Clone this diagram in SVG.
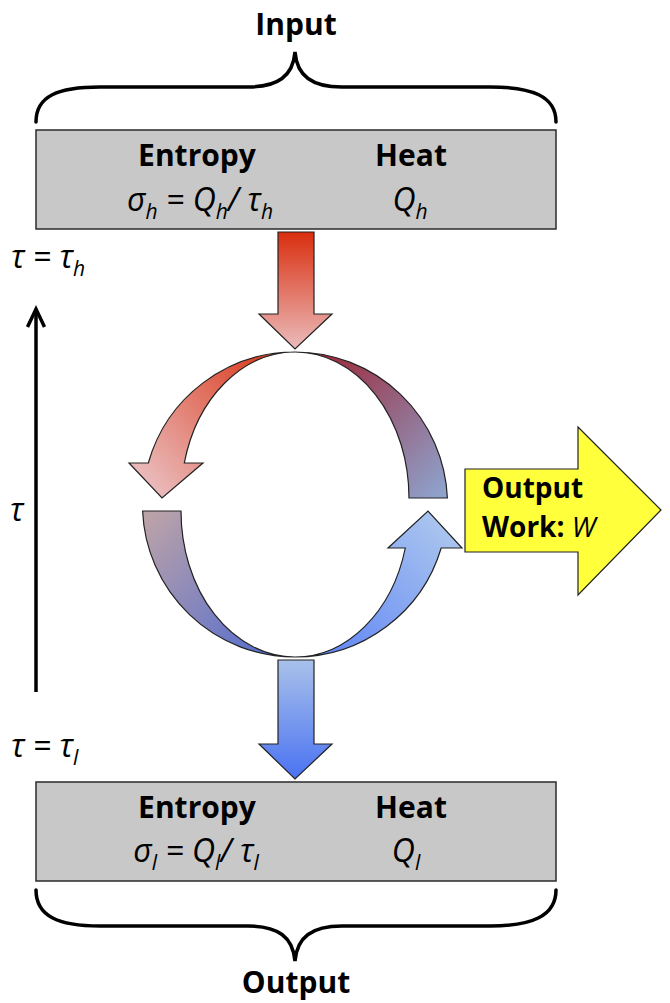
<svg xmlns="http://www.w3.org/2000/svg" width="670" height="1003" viewBox="0 0 670 1003">
<defs>
<style>
.lbl{font-family:"Open Sans","Liberation Sans",sans-serif;font-weight:bold;font-size:30px;fill:#000}
.wk{font-size:28px}
.math{font-family:"Open Sans","Liberation Sans",sans-serif;font-style:italic;font-size:32px;fill:#000}
.sub{font-size:21px}
.box{fill:#c8c8c8;stroke:#2a2a2a;stroke-width:1.5}
.brace{fill:none;stroke:#000;stroke-width:3.5;stroke-linecap:round}
.arr{stroke:#222;stroke-width:1.2;stroke-linejoin:miter}
</style>
<linearGradient id="gRed" x1="0" y1="232" x2="0" y2="349" gradientUnits="userSpaceOnUse"><stop offset="0" stop-color="#d92e0e"/><stop offset="1" stop-color="#ebbcbc"/></linearGradient>
<linearGradient id="gBlue" x1="0" y1="660" x2="0" y2="779" gradientUnits="userSpaceOnUse"><stop offset="0" stop-color="#a9c1ea"/><stop offset="1" stop-color="#4a72f2"/></linearGradient>
<linearGradient id="gA" x1="290" y1="355" x2="150" y2="480" gradientUnits="userSpaceOnUse"><stop offset="0" stop-color="#d8300f"/><stop offset="1" stop-color="#eab8b8"/></linearGradient>
<linearGradient id="gB" x1="300" y1="355" x2="440" y2="495" gradientUnits="userSpaceOnUse"><stop offset="0" stop-color="#9e2030"/><stop offset="1" stop-color="#8ea2cc"/></linearGradient>
<linearGradient id="gC" x1="150" y1="515" x2="295" y2="655" gradientUnits="userSpaceOnUse"><stop offset="0" stop-color="#bba2a8"/><stop offset="1" stop-color="#4c68d2"/></linearGradient>
<linearGradient id="gD" x1="300" y1="655" x2="440" y2="515" gradientUnits="userSpaceOnUse"><stop offset="0" stop-color="#5a80f6"/><stop offset="1" stop-color="#abc6ee"/></linearGradient>
</defs>

<g id="input-label">
<path class="brace" d="M36,122 C36,96 58,87 100,87 L248,87 C278,87 293,76 295,52 C297,76 312,87 342,87 L490,87 C532,87 556,96 556,122"/>
<text class="lbl" x="296" y="35" text-anchor="middle">Input</text>
</g>

<g id="hot-reservoir">
<rect class="box" x="36" y="130" width="520" height="99"/>
<text class="lbl" x="197" y="166" text-anchor="middle">Entropy</text>
<text class="lbl" x="411" y="166" text-anchor="middle">Heat</text>
<text class="math" x="200" y="211" text-anchor="middle">σ<tspan class="sub" dy="8">h</tspan><tspan dy="-8"> = Q</tspan><tspan class="sub" dy="8">h</tspan><tspan dy="-8">/ τ</tspan><tspan class="sub" dy="8">h</tspan></text>
<text class="math" x="410" y="211" text-anchor="middle">Q<tspan class="sub" dy="8">h</tspan></text>
</g>

<g id="cold-reservoir">
<rect class="box" x="36" y="782" width="520" height="99"/>
<text class="lbl" x="197" y="818" text-anchor="middle">Entropy</text>
<text class="lbl" x="411" y="818" text-anchor="middle">Heat</text>
<text class="math" x="196" y="862" text-anchor="middle">σ<tspan class="sub" dy="8">l</tspan><tspan dy="-8"> = Q</tspan><tspan class="sub" dy="8">l</tspan><tspan dy="-8">/ τ</tspan><tspan class="sub" dy="8">l</tspan></text>
<text class="math" x="406" y="862" text-anchor="middle">Q<tspan class="sub" dy="8">l</tspan></text>
</g>

<g id="output-label">
<path class="brace" d="M36,890 C36,916 58,926 100,926 L248,926 C278,926 293,937 295,961 C297,937 312,926 342,926 L490,926 C532,926 556,916 556,890"/>
<text class="lbl" x="296" y="993" text-anchor="middle">Output</text>
</g>

<g id="temperature-axis">
<line x1="36" y1="692" x2="36" y2="310" stroke="#000" stroke-width="3.5"/>
<polyline points="27.5,327 36,309 44.5,327" fill="none" stroke="#000" stroke-width="3.5" stroke-linejoin="miter"/>
<text class="math" x="11" y="268">τ = τ<tspan class="sub" dy="8">h</tspan></text>
<text class="math" x="10" y="521">τ</text>
<text class="math" x="11" y="757">τ = τ<tspan class="sub" dy="8">l</tspan></text>
</g>

<g id="work-output">
<path d="M465,469 L578,469 L578,427 L661,510 L578,595 L578,552 L465,552 Z" fill="#ffff3c" stroke="#222" stroke-width="1.2"/>
<text class="lbl wk" x="482" y="498">Output</text>
<text class="lbl wk" x="482" y="537">Work: <tspan style="font-weight:normal;font-style:italic">W</tspan></text>
</g>

<g id="connectors">
<path class="arr" fill="url(#gRed)" d="M278,232 L314,232 L314,314 L332,314 L295,349 L259,314 L278,314 Z"/>
<path class="arr" fill="url(#gBlue)" d="M278,660 L314,660 L314,744 L332,744 L295,779 L259,744 L278,744 Z"/>
<path class="arr" fill="url(#gA)" d="M295,352 A152.5,152.5 0 0 0 148.3,463 L129,463 L162,498 L203,463 L184.3,463 A114,146 0 0 1 295,352 Z"/>
<path class="arr" fill="url(#gB)" d="M295,352 A152.5,152.5 0 0 1 447.4,498 L409,498 A114,146 0 0 0 295,352 Z"/>
<path class="arr" fill="url(#gC)" d="M142.6,511 A152.5,152.5 0 0 0 295,657 A114,146 0 0 1 181,511 Z"/>
<path class="arr" fill="url(#gD)" d="M295,657 A152.5,152.5 0 0 0 441.2,548 L462,548 L428,511 L388,548 L405.3,548 A114,146 0 0 1 295,657 Z"/>
</g>
</svg>
